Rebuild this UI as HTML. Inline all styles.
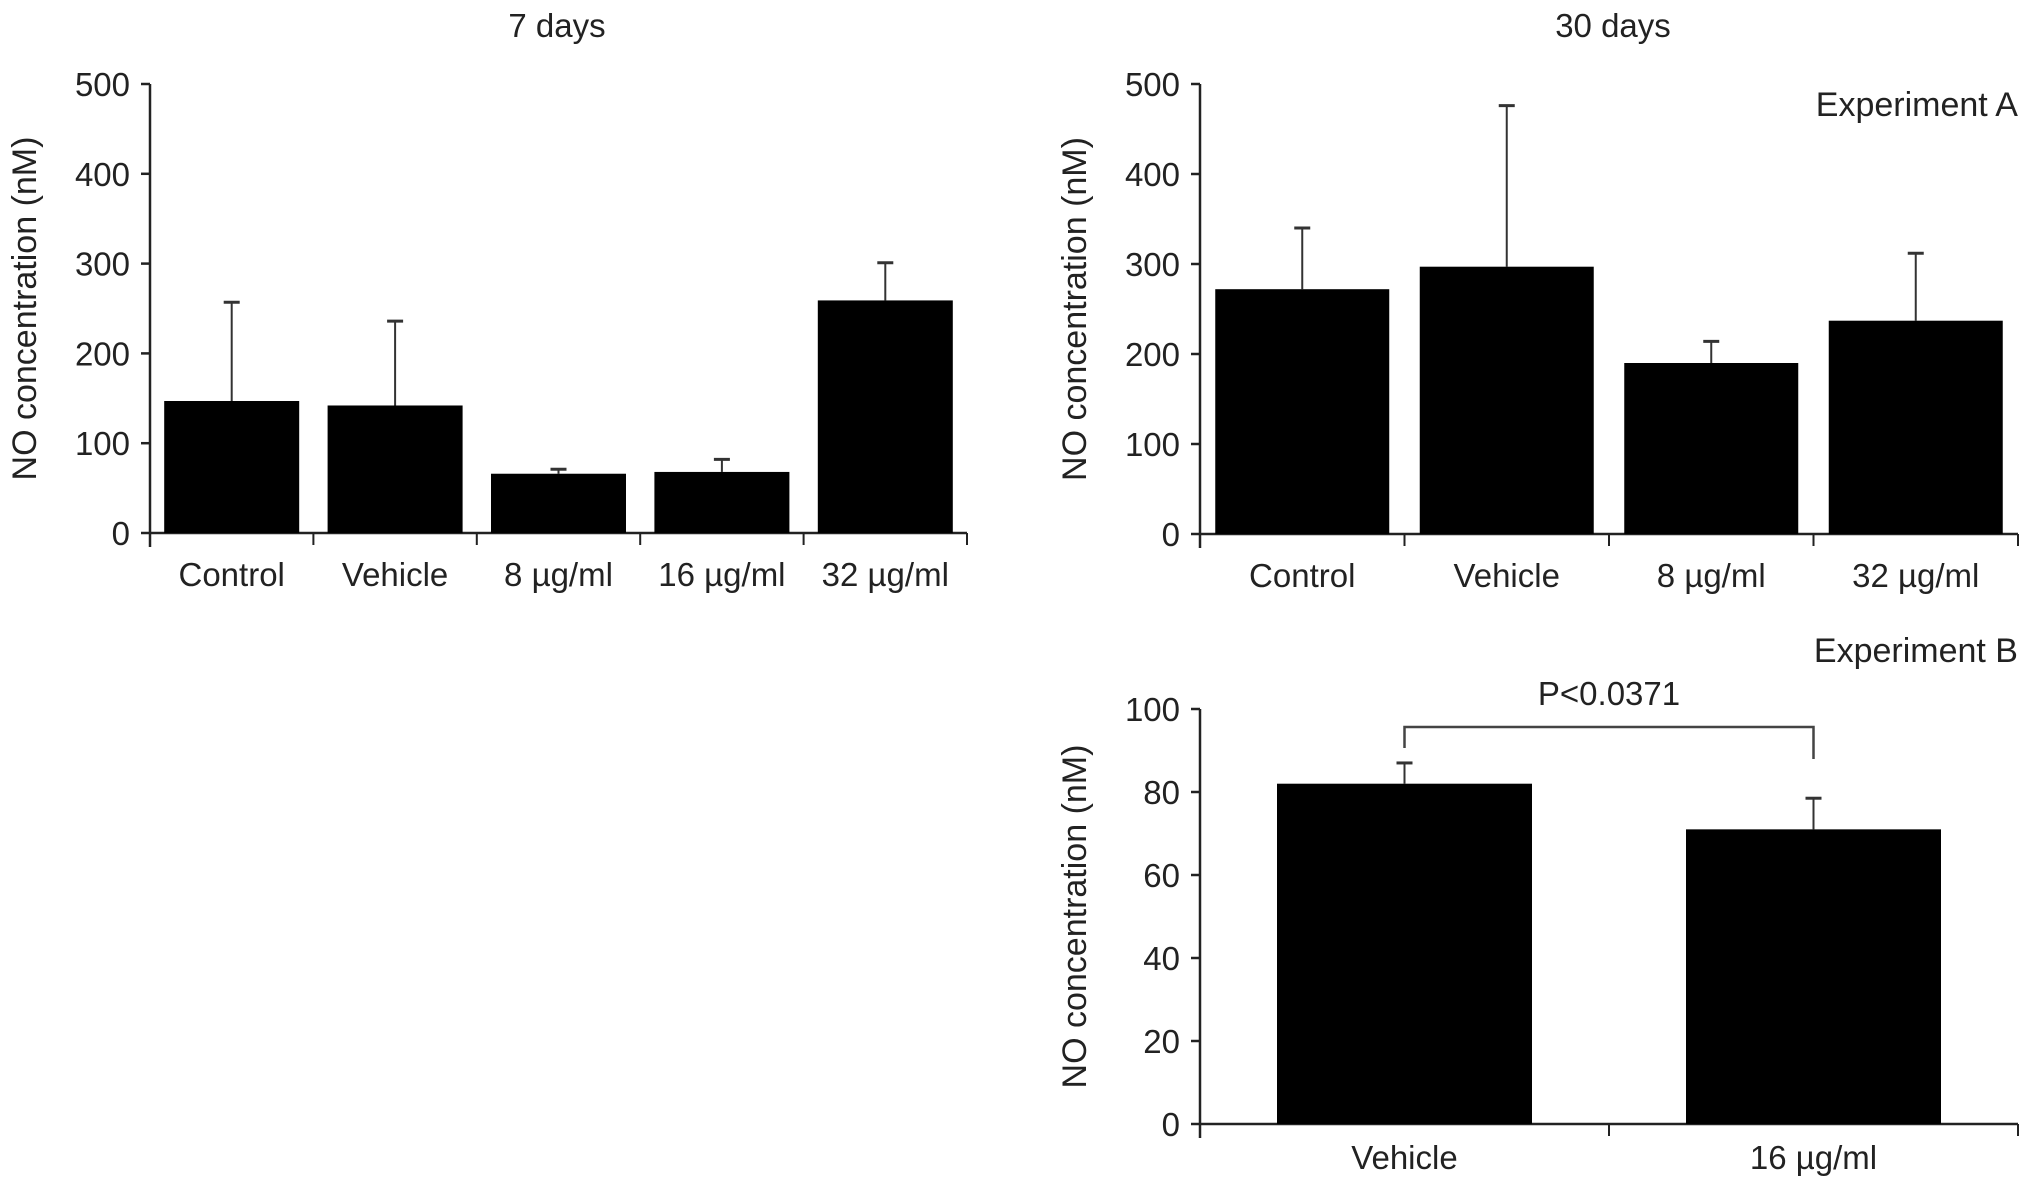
<!DOCTYPE html>
<html><head><meta charset="utf-8"><style>
html,body{margin:0;padding:0;background:#fff;}
svg{display:block;font-family:"Liberation Sans",Arial,sans-serif;}
</style></head><body>
<svg id="fig" width="2032" height="1186" viewBox="0 0 2032 1186" xmlns="http://www.w3.org/2000/svg"></svg>
<script>
const cats7 = ["Control","Vehicle","8 µg/ml","16 µg/ml","32 µg/ml"];
const vals7 = [147,142,66,68,259];
const errs7 = [257,236,71,82,301];
const ticks7 = [0,100,200,300,400,500];

const cats30 = ["Control","Vehicle","8 µg/ml","32 µg/ml"];
const vals30 = [272,297,190,237];
const errs30 = [340,476,214,312];
const ticks30 = [0,100,200,300,400,500];

const catsB = ["Vehicle","16 µg/ml"];
const valsB = [82,71];
const errsB = [87,78.5];
const ticksB = [0,20,40,60,80,100];
const pLabel = "P<0.0371";

const NS="http://www.w3.org/2000/svg";
const svg=document.getElementById('fig');
const FS=33;
function mk(tag,attrs,parent){const e=document.createElementNS(NS,tag);for(const k in attrs)e.setAttribute(k,attrs[k]);(parent||svg).appendChild(e);return e;}
function txt(s,attrs,parent){const e=mk('text',attrs,parent);e.textContent=s;return e;}

function chart(o){
  const g=mk('g',{});
  
  
  const ymax=o.ticks[o.ticks.length-1];
  const y=v=>o.y0-(v/ymax)*(o.y0-o.yTop);
  const slot=(o.xEnd-o.x0)/o.cats.length;
  const bx=i=>o.x0+slot*i+(slot-o.barW)/2;
  const ya=mk('line',{x1:o.x0,y1:o.yTop,x2:o.x0,y2:o.y0+14,stroke:'#222','stroke-width':2.5},g);
  
  const xa=mk('line',{x1:o.x0,y1:o.y0,x2:o.xEnd,y2:o.y0,stroke:'#222','stroke-width':2.5},g);
  
  o.ticks.forEach(t=>{
    mk('line',{x1:o.x0-9,y1:y(t),x2:o.x0,y2:y(t),stroke:'#222','stroke-width':2.5},g);
    const tl=txt(String(t),{x:o.x0-20,y:y(t)+12,'text-anchor':'end','font-size':FS,fill:'#222'},g);
    
  });
  for(let i=1;i<=o.cats.length;i++){
    const xx=o.x0+slot*i;
    mk('line',{x1:xx,y1:o.y0,x2:xx,y2:o.y0+12,stroke:'#222','stroke-width':2},g);
  }
  o.cats.forEach((c,i)=>{
    const cx=bx(i)+o.barW/2;
    const el=mk('line',{x1:cx,y1:y(o.errs[i]),x2:cx,y2:y(o.vals[i]),stroke:'#333','stroke-width':2},g);
    
    mk('line',{x1:cx-8,y1:y(o.errs[i]),x2:cx+8,y2:y(o.errs[i]),stroke:'#333','stroke-width':3},g);
    const r=mk('rect',{x:bx(i),y:y(o.vals[i]),width:o.barW,height:o.y0-y(o.vals[i]),fill:'#000'},g);
    
    
    const xl=txt(c,{x:cx,y:o.y0+o.labelOff,'text-anchor':'middle','font-size':FS,fill:'#222'},g);
    
  });
  const yt=txt('NO concentration (nM)',{x:0,y:0,'text-anchor':'middle','font-size':34,fill:'#222',transform:`translate(${o.x0-114},${(o.yTop+o.y0)/2}) rotate(-90)`},g);
  
  return {y,bx,slot};
}

chart({name:'chart-7-days',cats:cats7,vals:vals7,errs:errs7,ticks:ticks7,x0:150,xEnd:967,yTop:84,y0:533,barW:135,labelOff:53});
const c2=chart({name:'chart-30-days-a',cats:cats30,vals:vals30,errs:errs30,ticks:ticks30,x0:1200,xEnd:2018,yTop:84,y0:534,barW:174,labelOff:53});
const c3=chart({name:'chart-30-days-b',cats:catsB,vals:valsB,errs:errsB,ticks:ticksB,x0:1200,xEnd:2018,yTop:709,y0:1124,barW:255,labelOff:45});

let t;
t=txt('7 days',{x:557,y:37,'text-anchor':'middle','font-size':FS,fill:'#222'});

t=txt('30 days',{x:1613,y:37,'text-anchor':'middle','font-size':FS,fill:'#222'});

t=txt('Experiment A',{x:2018,y:116,'text-anchor':'end','font-size':34,fill:'#222'});

t=txt('Experiment B',{x:2018,y:662,'text-anchor':'end','font-size':34,fill:'#222'});


const bxL=c3.bx(0)+255/2, bxR=c3.bx(1)+255/2, by=727;
const br=mk('path',{d:`M${bxL},${by+21} V${by} H${bxR} V${by+32}`,fill:'none',stroke:'#444','stroke-width':2.5});

t=txt(pLabel,{x:(bxL+bxR)/2,y:705,'text-anchor':'middle','font-size':FS,fill:'#222'});

</script>
</body></html>
